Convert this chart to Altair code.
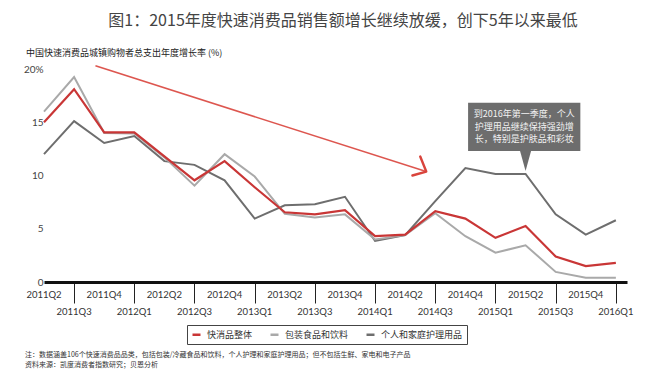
import altair as alt
import pandas as pd

# ---------------- data ----------------
quarters = ["2011Q2", "2011Q3", "2011Q4", "2012Q1", "2012Q2", "2012Q3", "2012Q4",
            "2013Q1", "2013Q2", "2013Q3", "2013Q4", "2014Q1", "2014Q2", "2014Q3",
            "2014Q4", "2015Q1", "2015Q2", "2015Q3", "2015Q4", "2016Q1"]
series_names = ["快消品整体", "包装食品和饮料", "个人和家庭护理用品"]
total = [15.0, 18.1, 14.05, 14.05, 11.8, 9.55, 11.35, 8.9, 6.55, 6.35,
         6.75, 4.3, 4.45, 6.65, 5.95, 4.15, 5.25, 2.4, 1.5, 1.8]
food = [16.0, 19.25, 14.0, 13.95, 11.7, 9.05, 12.0, 9.9, 6.4, 6.05,
        6.35, 4.0, 4.4, 6.45, 4.3, 2.75, 3.45, 0.95, 0.4, 0.4]
care = [12.0, 15.1, 13.05, 13.7, 11.35, 11.0, 9.55, 5.95, 7.2, 7.3,
        8.0, 3.85, 4.4, 7.6, 10.7, 10.15, 10.15, 6.35, 4.45, 5.8]
y_ticks = [0, 5, 10, 15, 20]

title_text = "图1：2015年度快速消费品销售额增长继续放缓，创下5年以来最低"
subtitle_text = "中国快速消费品城镇购物者总支出年度增长率 (%)"
note_lines = ["注：数据涵盖106个快速消费品品类，包括包装/冷藏食品和饮料，个人护理和家庭护理用品；但不包括生鲜、家电和电子产品",
              "资料来源：凯度消费者指数研究；贝恩分析"]
callout_lines = ["到2016年第一季度，个人", "护理用品继续保持强劲增", "长，特别是护肤品和彩妆"]

# annotation geometry (in data units)
arrow_x = [1.71, 12.67]
arrow_v = [20.3, 10.4]
head_x = [12.50, 12.70, 12.24]
head_v = [11.78, 10.37, 10.0]
box_x = [14.09, 17.82]
box_v = [12.3, 16.84]
callout_v = [15.8, 14.6, 13.4]

colors = ["#c93636", "#a9a9a9", "#6e6e6e"]
CJK = "Noto Sans CJK SC"
LAT = "Lato"

rows = []
for name, vals in zip(series_names, [total, food, care]):
    for i, (q, v) in enumerate(zip(quarters, vals)):
        rows.append({"idx": i, "quarter": q, "series": name, "value": v})
df = pd.DataFrame(rows)
lab = pd.DataFrame({"idx": list(range(len(quarters))), "quarter": quarters,
                    "row": [i % 2 for i in range(len(quarters))]})
call_df = pd.DataFrame({"t": callout_lines, "v": callout_v})

xscale = alt.Scale(domain=[0, 19.37], nice=False, zero=False)
yscale = alt.Scale(domain=[0, 20], nice=False)

x_axis = alt.Axis(values=[i for i in range(len(quarters)) if i % 2 == 1], labels=False,
                  tickSize=21, tickColor="#222", tickWidth=1, domainColor="#111",
                  domainWidth=3, grid=False, title=None)
y_axis = alt.Axis(values=y_ticks, labelExpr="datum.value == 20 ? '20%' : datum.label",
                  domain=False, ticks=False, tickSize=0, grid=False, labelPadding=1,
                  labelFont=LAT, labelFontSize=10, labelColor="#444", title=None)


def X(field=None, **kw):
    if field is not None:
        return alt.X(field, scale=xscale, axis=x_axis)
    return alt.X(scale=xscale, axis=x_axis, **kw)


def Y(field=None, **kw):
    if field is not None:
        return alt.Y(field, scale=yscale, axis=y_axis)
    return alt.Y(scale=yscale, axis=y_axis, **kw)


color = alt.Color("series:N", scale=alt.Scale(domain=series_names, range=colors),
                  sort=series_names,
                  legend=alt.Legend(orient="none", legendX=143, legendY=256,
                                    direction="horizontal", title=None,
                                    strokeColor="#444", fillColor="white", padding=4,
                                    symbolType="stroke", symbolSize=64,
                                    symbolStrokeWidth=2.5, labelFont=CJK,
                                    labelFontSize=9, labelColor="#333",
                                    columnPadding=12, labelOffset=5))

base = alt.Chart(df)


def series_layer(name, width):
    return base.transform_filter(alt.datum.series == name).mark_line(strokeWidth=width).encode(
        x=X("idx:Q"), y=Y("value:Q"), color=color)


lines = [series_layer(series_names[2], 2), series_layer(series_names[1], 2),
         series_layer(series_names[0], 2.2)]

one = pd.DataFrame({"a": [0]})

arrow = alt.Chart(pd.DataFrame({"x": arrow_x, "v": arrow_v, "k": [0, 1]})).mark_line(
    color="#d9443c", strokeWidth=1.6, opacity=0.9).encode(
    x=X("x:Q"), y=Y("v:Q"), order="k:Q")
head = alt.Chart(pd.DataFrame({"x": head_x, "v": head_v, "k": [0, 1, 2]})).mark_line(
    color="#d9443c", strokeWidth=2.4, strokeCap="round", strokeJoin="round").encode(
    x=X("x:Q"), y=Y("v:Q"), order="k:Q")

box = alt.Chart(one).mark_rect(color="#6d6d6d").encode(
    x=X(datum=box_x[0]), x2=alt.X2(datum=box_x[1]),
    y=Y(datum=box_v[1]), y2=alt.Y2(datum=box_v[0]))
pointer = alt.Chart(one).mark_point(shape="M-0.55,-1L0.55,-1L0,1Z", filled=True,
                                     size=400, color="#6d6d6d", opacity=1).encode(
    x=X(datum=16.0), y=Y(datum=11.35))
callout = alt.Chart(call_df).mark_text(font=CJK, fontSize=9, color="#f2f2f2",
                                       align="center", baseline="middle").encode(
    x=X(datum=(box_x[0] + box_x[1]) / 2), y=Y("v:Q"), text="t:N")

xlab_even = alt.Chart(lab).transform_filter(alt.datum.row == 0).mark_text(
    font=LAT, fontSize=9.5, color="#333", baseline="middle").encode(
    x=X("idx:Q"), y=alt.value(226), text="quarter:N")
xlab_odd = alt.Chart(lab).transform_filter(alt.datum.row == 1).mark_text(
    font=LAT, fontSize=9.5, color="#333", baseline="middle").encode(
    x=X("idx:Q"), y=alt.value(242.5), text="quarter:N")

title = alt.Chart(pd.DataFrame({"t": [title_text]})).mark_text(
    font=CJK, fontSize=16, color="#444", align="center", baseline="middle").encode(
    text="t:N", x=alt.value(299), y=alt.value(-48))
subtitle = alt.Chart(pd.DataFrame({"t": [subtitle_text]})).mark_text(
    font=CJK, fontSize=9, color="#222", align="left", baseline="middle").encode(
    text="t:N", x=alt.value(-18), y=alt.value(-16.5))
note1 = alt.Chart(pd.DataFrame({"t": [note_lines[0]]})).mark_text(
    font=CJK, fontSize=7, color="#333", align="left", baseline="middle").encode(
    text="t:N", x=alt.value(-19), y=alt.value(285.5))
note2 = alt.Chart(pd.DataFrame({"t": [note_lines[1]]})).mark_text(
    font=CJK, fontSize=7, color="#333", align="left", baseline="middle").encode(
    text="t:N", x=alt.value(-19), y=alt.value(296))

chart = alt.layer(
    *lines, arrow, head, box, pointer, callout, xlab_even, xlab_odd, title, subtitle,
    note1, note2
).properties(
    width=583, height=213,
    padding={"left": 36, "top": 61, "right": 25, "bottom": 102},
    autosize=alt.AutoSizeParams(type="none"),
    background="white",
).configure_view(stroke=None)

chart.save("out.html", embed_options={"renderer": "svg", "actions": False})
